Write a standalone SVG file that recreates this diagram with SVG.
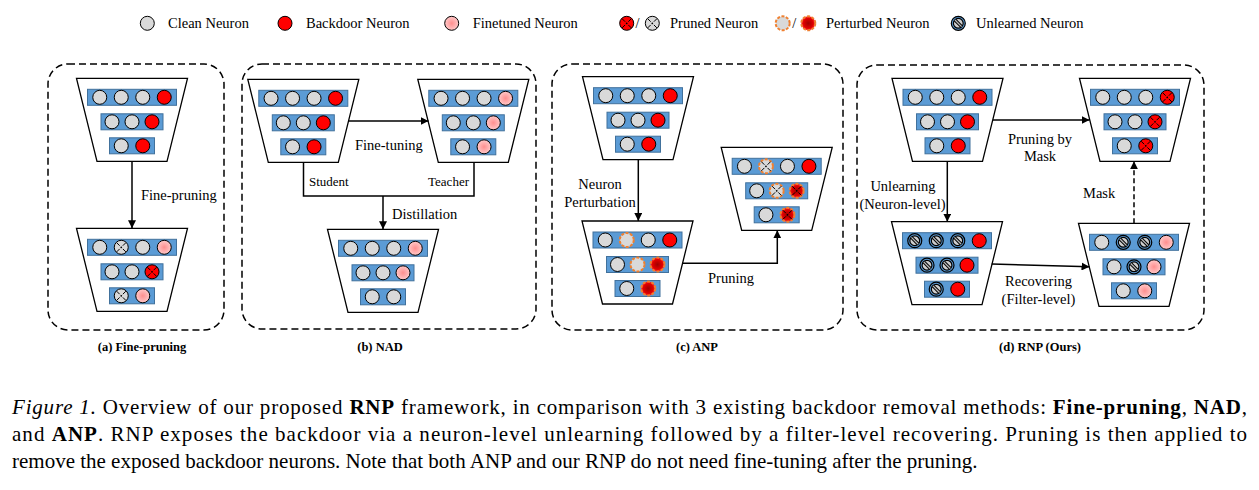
<svg xmlns="http://www.w3.org/2000/svg" width="1259" height="490" viewBox="0 0 1259 490">
<style>
text{font-family:"Liberation Serif","Times New Roman",serif;fill:#000}
.lbl{font-size:14.5px}
.sm{font-size:13px}
.cap{font-size:12.5px;font-weight:bold}
.big{font-size:21px}
.panel{fill:none;stroke:#000;stroke-width:1.5;stroke-dasharray:7 4}
.conn{fill:none;stroke:#000;stroke-width:1.5}
.trap{fill:#fff;stroke:#000;stroke-width:1.3}
.bar{fill:#5b9bd5;stroke:#41719c;stroke-width:1}
.n{stroke:#000;stroke-width:1}
</style>
<defs>
<radialGradient id="pink"><stop offset="0" stop-color="#ff8f8f"/><stop offset="1" stop-color="#ffc8c8"/></radialGradient>
<radialGradient id="pred"><stop offset="0" stop-color="#a00000"/><stop offset="0.7" stop-color="#e00000"/><stop offset="1" stop-color="#ff2a2a"/></radialGradient>
<marker id="ah" viewBox="0 0 10 10" refX="10" refY="5" markerWidth="8" markerHeight="8" markerUnits="userSpaceOnUse" orient="auto"><path d="M0,0L10,5L0,10z" fill="#000"/></marker>
<g id="x"><path d="M-4.6,-4.6L-1.6,-1.6M4.6,-4.6L1.6,-1.6M-4.6,4.6L-1.6,1.6M4.6,4.6L1.6,1.6" stroke="#000" stroke-width="1"/><circle r="0.9" fill="#000"/></g>
<circle id="C" r="7" class="n" fill="#d9d9d9"/>
<circle id="B" r="7" class="n" fill="#ff0000"/>
<circle id="F" r="7" class="n" fill="url(#pink)"/>
<g id="PR"><circle r="7" class="n" fill="#ff0000"/><use href="#x"/></g>
<g id="PG"><circle r="7" class="n" fill="#d9d9d9"/><use href="#x"/></g>
<circle id="TG" r="7" fill="#d9d9d9" stroke="#f08030" stroke-width="2" stroke-dasharray="3 1.5"/>
<circle id="TR" r="7" fill="url(#pred)" stroke="#f08030" stroke-width="2" stroke-dasharray="3 1.5"/>
<g id="TPG"><use href="#TG"/><use href="#x"/></g>
<g id="TPR"><use href="#TR"/><use href="#x"/></g>
<g id="U"><circle r="7" fill="#5b9bd5" stroke="#000" stroke-width="1.2"/><circle r="4.9" fill="#cfcfcf" stroke="#000" stroke-width="1.2"/><path d="M-3.3,-3.3L3.3,3.3" stroke="#000" stroke-width="3.2"/><path d="M-3.3,-3.3L3.3,3.3" stroke="#bdbdbd" stroke-width="1.3"/></g>
<g id="trap"><polygon class="trap" points="-55.5,0 55.5,0 35,83 -35,83"/><rect class="bar" x="-44.5" y="11" width="89" height="16"/><rect class="bar" x="-31" y="35.5" width="62" height="16"/><rect class="bar" x="-22.5" y="59.5" width="45" height="16"/></g>
</defs>
<rect width="1259" height="490" fill="#fff"/>

<!-- legend -->
<g id="legend">
<use href="#C" x="147.3" y="23.3"/><text class="lbl" x="168" y="28">Clean Neuron</text>
<use href="#B" x="285" y="23.3"/><text class="lbl" x="306" y="28">Backdoor Neuron</text>
<use href="#F" x="451.7" y="23.3"/><text class="lbl" x="472.7" y="28">Finetuned Neuron</text>
<use href="#PR" x="626.7" y="23.3"/><text class="lbl" x="635.5" y="28">/</text><use href="#PG" x="652.3" y="23.3"/><text class="lbl" x="670" y="28">Pruned Neuron</text>
<use href="#TG" x="782.7" y="23.3"/><text class="lbl" x="792.3" y="28">/</text><use href="#TR" x="808.3" y="23.3"/><text class="lbl" x="826" y="28">Perturbed Neuron</text>
<use href="#U" x="958.3" y="23.3"/><text class="lbl" x="976" y="28">Unlearned Neuron</text>
</g>

<!-- panel frames -->
<g id="panels">
<rect class="panel" x="48" y="64" width="176" height="266" rx="20"/>
<rect class="panel" x="242" y="64" width="294" height="265" rx="20"/>
<rect class="panel" x="552" y="64" width="291" height="266" rx="20"/>
<rect class="panel" x="857" y="65" width="347" height="265" rx="20"/>
</g>

<!-- (a) -->
<g id="a-top" transform="translate(132,78.3)"><use href="#trap"/>
<use href="#C" x="-32.25" y="19"/><use href="#C" x="-10.75" y="19"/><use href="#C" x="10.75" y="19"/><use href="#B" x="32.25" y="19"/>
<use href="#C" x="-20" y="43.5"/><use href="#C" x="0" y="43.5"/><use href="#B" x="20" y="43.5"/>
<use href="#C" x="-10.75" y="67.5"/><use href="#B" x="10.75" y="67.5"/></g>
<g id="a-bottom" transform="translate(132,228.3)"><use href="#trap"/>
<use href="#C" x="-32.25" y="19"/><use href="#PG" x="-10.75" y="19"/><use href="#C" x="10.75" y="19"/><use href="#F" x="32.25" y="19"/>
<use href="#C" x="-20" y="43.5"/><use href="#C" x="0" y="43.5"/><use href="#PR" x="20" y="43.5"/>
<use href="#PG" x="-10.75" y="67.5"/><use href="#F" x="10.75" y="67.5"/></g>

<!-- (b) -->
<g id="b-student" transform="translate(303.3,79.3)"><use href="#trap"/>
<use href="#C" x="-32.25" y="19"/><use href="#C" x="-10.75" y="19"/><use href="#C" x="10.75" y="19"/><use href="#B" x="32.25" y="19"/>
<use href="#C" x="-20" y="43.5"/><use href="#C" x="0" y="43.5"/><use href="#B" x="20" y="43.5"/>
<use href="#C" x="-10.75" y="67.5"/><use href="#B" x="10.75" y="67.5"/></g>
<g id="b-teacher" transform="translate(473.3,79.3)"><use href="#trap"/>
<use href="#C" x="-32.25" y="19"/><use href="#C" x="-10.75" y="19"/><use href="#C" x="10.75" y="19"/><use href="#F" x="32.25" y="19"/>
<use href="#C" x="-20" y="43.5"/><use href="#C" x="0" y="43.5"/><use href="#F" x="20" y="43.5"/>
<use href="#C" x="-10.75" y="67.5"/><use href="#F" x="10.75" y="67.5"/></g>
<g id="b-bottom" transform="translate(383,229.3)"><use href="#trap"/>
<use href="#C" x="-32.25" y="19"/><use href="#C" x="-10.75" y="19"/><use href="#C" x="10.75" y="19"/><use href="#F" x="32.25" y="19"/>
<use href="#C" x="-20" y="43.5"/><use href="#C" x="0" y="43.5"/><use href="#F" x="20" y="43.5"/>
<use href="#C" x="-10.75" y="67.5"/><use href="#C" x="10.75" y="67.5"/></g>

<!-- (c) -->
<g id="c-top" transform="translate(638,76.7)"><use href="#trap"/>
<use href="#C" x="-32.25" y="19"/><use href="#C" x="-10.75" y="19"/><use href="#C" x="10.75" y="19"/><use href="#B" x="32.25" y="19"/>
<use href="#C" x="-20" y="43.5"/><use href="#C" x="0" y="43.5"/><use href="#B" x="20" y="43.5"/>
<use href="#C" x="-10.75" y="67.5"/><use href="#B" x="10.75" y="67.5"/></g>
<g id="c-bottom" transform="translate(637.5,221)"><use href="#trap"/>
<use href="#C" x="-32.25" y="19"/><use href="#TG" x="-10.75" y="19"/><use href="#C" x="10.75" y="19"/><use href="#B" x="32.25" y="19"/>
<use href="#C" x="-20" y="43.5"/><use href="#TG" x="0" y="43.5"/><use href="#TR" x="20" y="43.5"/>
<use href="#C" x="-10.75" y="67.5"/><use href="#TR" x="10.75" y="67.5"/></g>
<g id="c-right" transform="translate(776.7,147.3)"><use href="#trap"/>
<use href="#C" x="-32.25" y="19"/><use href="#TPG" x="-10.75" y="19"/><use href="#C" x="10.75" y="19"/><use href="#B" x="32.25" y="19"/>
<use href="#C" x="-20" y="43.5"/><use href="#TPG" x="0" y="43.5"/><use href="#TPR" x="20" y="43.5"/>
<use href="#C" x="-10.75" y="67.5"/><use href="#TPR" x="10.75" y="67.5"/></g>

<!-- (d) -->
<g id="d-tl" transform="translate(947.5,78.3)"><use href="#trap"/>
<use href="#C" x="-32.25" y="19"/><use href="#C" x="-10.75" y="19"/><use href="#C" x="10.75" y="19"/><use href="#B" x="32.25" y="19"/>
<use href="#C" x="-20" y="43.5"/><use href="#C" x="0" y="43.5"/><use href="#B" x="20" y="43.5"/>
<use href="#C" x="-10.75" y="67.5"/><use href="#B" x="10.75" y="67.5"/></g>
<g id="d-tr" transform="translate(1135,78.3)"><use href="#trap"/>
<use href="#C" x="-32.25" y="19"/><use href="#C" x="-10.75" y="19"/><use href="#C" x="10.75" y="19"/><use href="#PR" x="32.25" y="19"/>
<use href="#C" x="-20" y="43.5"/><use href="#C" x="0" y="43.5"/><use href="#PR" x="20" y="43.5"/>
<use href="#C" x="-10.75" y="67.5"/><use href="#PR" x="10.75" y="67.5"/></g>
<g id="d-bl" transform="translate(947,221.7)"><use href="#trap"/>
<use href="#U" x="-32.25" y="19"/><use href="#U" x="-10.75" y="19"/><use href="#U" x="10.75" y="19"/><use href="#B" x="32.25" y="19"/>
<use href="#U" x="-20" y="43.5"/><use href="#U" x="0" y="43.5"/><use href="#B" x="20" y="43.5"/>
<use href="#U" x="-10.75" y="67.5"/><use href="#B" x="10.75" y="67.5"/></g>
<g id="d-br" transform="translate(1134,223.3)"><use href="#trap"/>
<use href="#C" x="-32.25" y="19"/><use href="#U" x="-10.75" y="19"/><use href="#U" x="10.75" y="19"/><use href="#F" x="32.25" y="19"/>
<use href="#C" x="-20" y="43.5"/><use href="#U" x="0" y="43.5"/><use href="#F" x="20" y="43.5"/>
<use href="#C" x="-10.75" y="67.5"/><use href="#F" x="10.75" y="67.5"/></g>

<!-- connectors -->
<g id="connectors">
<path class="conn" d="M132,161.3V228.3" marker-end="url(#ah)"/>
<path class="conn" d="M348,121H428.5" marker-end="url(#ah)"/>
<path class="conn" d="M303.5,162.3V196H474V162.3"/>
<path class="conn" d="M383,196V229.3" marker-end="url(#ah)"/>
<path class="conn" d="M638.3,159.7V221" marker-end="url(#ah)"/>
<path class="conn" d="M682.6,263.3H777.3V230.3" marker-end="url(#ah)"/>
<path class="conn" d="M993,120H1089.5" marker-end="url(#ah)"/>
<path class="conn" d="M947.3,161.3V221.7" marker-end="url(#ah)"/>
<path class="conn" d="M991.7,264L1089.5,266.7" marker-end="url(#ah)"/>
<path class="conn" d="M1134,223.3V161.3" stroke-dasharray="5 3" marker-end="url(#ah)"/>
</g>

<!-- labels -->
<g id="labels">
<text class="lbl" x="141" y="199.5">Fine-pruning</text>
<text class="lbl" x="355" y="150">Fine-tuning</text>
<text class="sm" x="309" y="186">Student</text>
<text class="sm" x="469" y="186" text-anchor="end">Teacher</text>
<text class="lbl" x="392" y="219">Distillation</text>
<text class="lbl" x="600" y="189" text-anchor="middle">Neuron</text>
<text class="lbl" x="600" y="206.5" text-anchor="middle">Perturbation</text>
<text class="lbl" x="708" y="283">Pruning</text>
<text class="lbl" x="1040" y="143.5" text-anchor="middle">Pruning by</text>
<text class="lbl" x="1040" y="160.5" text-anchor="middle">Mask</text>
<text class="lbl" x="903" y="191" text-anchor="middle">Unlearning</text>
<text class="lbl" x="902.5" y="208.5" text-anchor="middle">(Neuron-level)</text>
<text class="lbl" x="1083" y="198">Mask</text>
<text class="lbl" x="1038.5" y="286" text-anchor="middle">Recovering</text>
<text class="lbl" x="1038.5" y="303.5" text-anchor="middle">(Filter-level)</text>
<text class="cap" x="142" y="351" text-anchor="middle">(a) Fine-pruning</text>
<text class="cap" x="380" y="351" text-anchor="middle">(b) NAD</text>
<text class="cap" x="697" y="351" text-anchor="middle">(c) ANP</text>
<text class="cap" x="1040" y="351" text-anchor="middle">(d) RNP (Ours)</text>
</g>

<!-- caption -->
<g id="caption">
<text class="big" x="12" y="414" textLength="1235" lengthAdjust="spacing"><tspan font-style="italic">Figure 1.</tspan> Overview of our proposed <tspan font-weight="bold">RNP</tspan> framework, in comparison with 3 existing backdoor removal methods: <tspan font-weight="bold">Fine-pruning</tspan>, <tspan font-weight="bold">NAD</tspan>,</text>
<text class="big" x="12" y="441" textLength="1235" lengthAdjust="spacing">and <tspan font-weight="bold">ANP</tspan>. RNP exposes the backdoor via a neuron-level unlearning followed by a filter-level recovering. Pruning is then applied to</text>
<text class="big" x="12" y="467.5">remove the exposed backdoor neurons. Note that both ANP and our RNP do not need fine-tuning after the pruning.</text>
</g>
</svg>
